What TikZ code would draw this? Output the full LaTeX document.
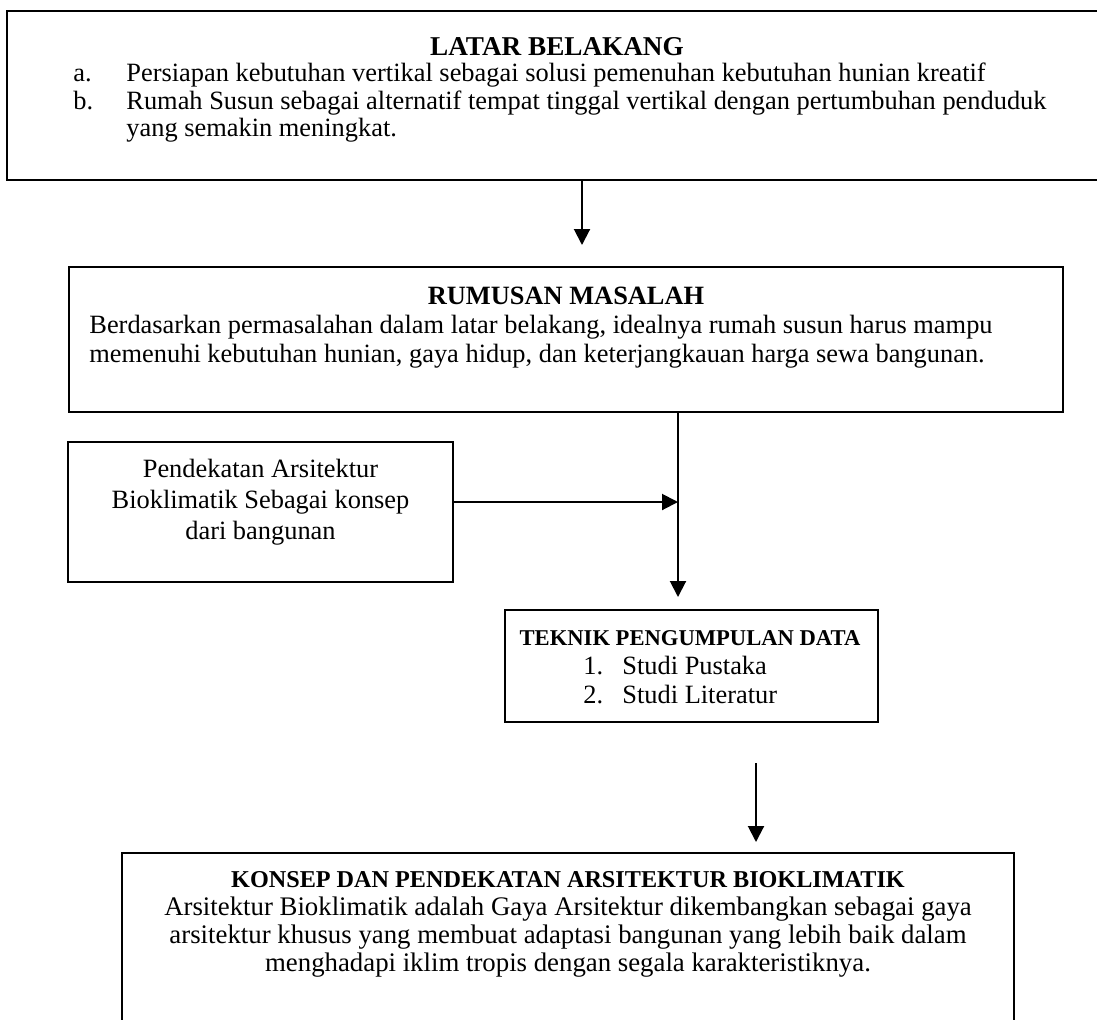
\documentclass[tikz,border=0pt]{standalone}
\usepackage{fontspec}
\setmainfont{Liberation Serif}
\usetikzlibrary{arrows.meta,fit}

\tikzset{
  kotak/.style={draw,line width=1pt,inner sep=0pt},
  teks/.style={inner sep=0pt,font=\fontsize{13.2}{14.5}\selectfont},
  judul/.style={inner sep=0pt,font=\bfseries\fontsize{13.2}{14.5}\selectfont},
  panah/.style={line width=1pt,-{Triangle[width=8pt,length=8pt]}}
}

\begin{document}
\begin{tikzpicture}[x=0.5pt,y=-0.5pt]
 \useasboundingbox (0,0) rectangle (1097,1019);
 % kotak-kotak
 \node[kotak,fit={(7,11) (1157,180)}] (latar) {};
 \node[kotak,fit={(69,267) (1063,412)}] (rumusan) {};
 \node[kotak,fit={(68,442) (453,582)}] (pendekatan) {};
 \node[kotak,fit={(505,610) (878,722)}] (teknik) {};
 \node[kotak,fit={(122,853) (1014,1060)}] (konsep) {};
 % latar belakang
 \node[judul,font=\bfseries\fontsize{13.6}{14.5}\selectfont] (latarjudul) at (557,47) {LATAR BELAKANG};
 \node[teks,anchor=base west] (poina) at (73,81) {a.};
 \node[teks,anchor=base west] (isia) at (126,81)
    {Persiapan kebutuhan vertikal sebagai solusi pemenuhan kebutuhan hunian kreatif};
 \node[teks,anchor=base west] (poinb) at (73,109) {b.};
 \node[teks,anchor=base west] (isib) at (126,109)
    {Rumah Susun sebagai alternatif tempat tinggal vertikal dengan pertumbuhan penduduk};
 \node[teks,anchor=base west] (isib2) at (126,136)
    {yang semakin meningkat.};
 % rumusan masalah
 \node[judul] (rumusanjudul) at (566,296) {RUMUSAN MASALAH};
 \node[teks,anchor=west,align=left] (rumusanisi) at (89,342)
    {Berdasarkan permasalahan dalam latar belakang, idealnya rumah susun harus mampu\\
     memenuhi kebutuhan hunian, gaya hidup, dan keterjangkauan harga sewa bangunan.};
 % pendekatan
 \node[teks,font=\fontsize{13.2}{15.5}\selectfont,align=center] (pendekatanisi) at (260.5,502)
    {Pendekatan Arsitektur\\Bioklimatik Sebagai konsep\\dari bangunan};
 % teknik pengumpulan data
 \node[judul,font=\bfseries\fontsize{11.3}{14}\selectfont,anchor=base] (teknikjudul) at (690,645) {TEKNIK PENGUMPULAN DATA};
 \node[teks,anchor=base west] (no1) at (583,674) {1.};
 \node[teks,anchor=base west] (studi1) at (622,674) {Studi Pustaka};
 \node[teks,anchor=base west] (no2) at (583,703) {2.};
 \node[teks,anchor=base west] (studi2) at (622,703) {Studi Literatur};
 % konsep
 \node[judul,font=\bfseries\fontsize{12.1}{14}\selectfont] (konsepjudul) at (568,880)
    {KONSEP DAN PENDEKATAN ARSITEKTUR BIOKLIMATIK};
 \node[teks,font=\fontsize{13.4}{13.8}\selectfont,align=center] (konsepisi) at (568,937)
    {Arsitektur Bioklimatik adalah Gaya Arsitektur dikembangkan sebagai gaya\\
     arsitektur khusus yang membuat adaptasi bangunan yang lebih baik dalam\\
     menghadapi iklim tropis dengan segala karakteristiknya.};
 % panah
 \coordinate (ujung1) at (582,245);
 \coordinate (ujung2) at (678,597);
 \coordinate (temu) at (678,502);
 \coordinate (awal3) at (756,763);
 \coordinate (ujung3) at (756,842);
 \draw[panah] (latar.south -| ujung1) -- (ujung1);
 \draw[panah] (rumusan.south -| ujung2) -- (ujung2);
 \draw[panah] (pendekatan.east |- temu) -- (temu);
 \draw[panah] (awal3) -- (ujung3);
\end{tikzpicture}
\end{document}
